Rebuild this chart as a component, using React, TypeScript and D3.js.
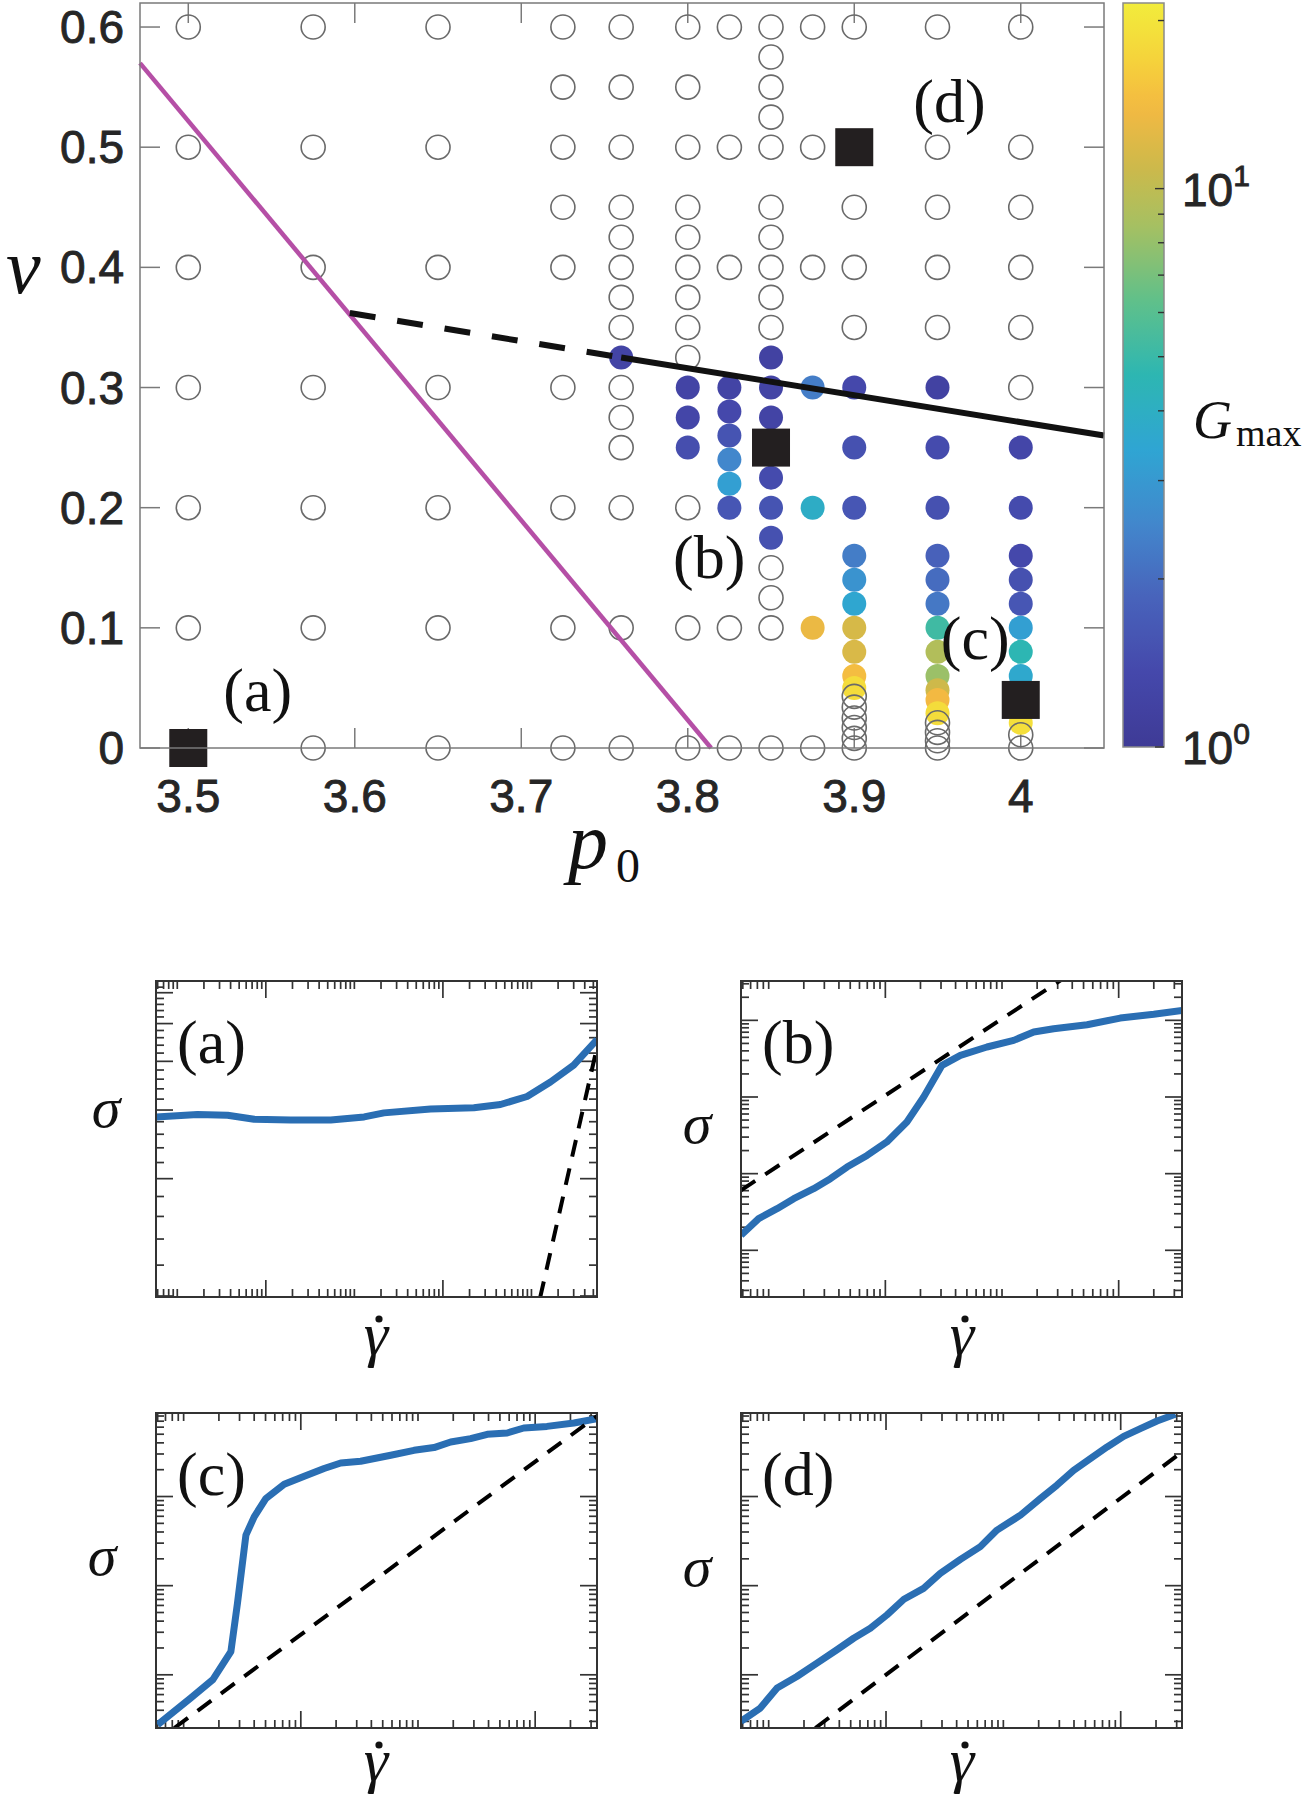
import React from 'react';
import * as d3 from 'd3';

const W = 1313;
const H = 1800;

// ---------------- main panel: (p0, v) diagram ----------------
const p0Ticks = [3.5, 3.6, 3.7, 3.8, 3.9, 4];
const p0TickLabels = ['3.5', '3.6', '3.7', '3.8', '3.9', '4'];
const vTicks = [0, 0.1, 0.2, 0.3, 0.4, 0.5, 0.6];
const vTickLabels = ['0', '0.1', '0.2', '0.3', '0.4', '0.5', '0.6'];

// open circles (no Gmax): [p0, v values]
const openColumns: [number, number[]][] = [
  [3.5, [0.1, 0.2, 0.3, 0.4, 0.5, 0.6]],
  [3.575, [0, 0.1, 0.2, 0.3, 0.4, 0.5, 0.6]],
  [3.65, [0, 0.1, 0.2, 0.3, 0.4, 0.5, 0.6]],
  [3.725, [0, 0.1, 0.2, 0.3, 0.4, 0.45, 0.5, 0.55, 0.6]],
  [3.76, [0, 0.1, 0.2, 0.25, 0.275, 0.3, 0.35, 0.375, 0.4, 0.425, 0.45, 0.5, 0.55, 0.6]],
  [3.8, [0, 0.1, 0.2, 0.325, 0.35, 0.375, 0.4, 0.425, 0.45, 0.5, 0.55, 0.6]],
  [3.825, [0, 0.1, 0.4, 0.5, 0.6]],
  [3.85, [0, 0.1, 0.125, 0.15, 0.35, 0.375, 0.4, 0.425, 0.45, 0.5, 0.525, 0.55, 0.575, 0.6]],
  [3.875, [0, 0.4, 0.5, 0.6]],
  [3.9, [0, 0.008, 0.017, 0.025, 0.034, 0.043, 0.35, 0.4, 0.45, 0.6]],
  [3.95, [0, 0.006, 0.013, 0.021, 0.35, 0.4, 0.45, 0.5, 0.6]],
  [4, [0, 0.011, 0.3, 0.35, 0.4, 0.45, 0.5, 0.6]],
];

// filled circles: [p0, v values, Gmax values]
const filledColumns: [number, number[], number[]][] = [
  [3.76, [0.325], [1.25]],
  [3.8, [0.3, 0.275, 0.25], [1.25, 1.3, 1.45]],
  [3.825, [0.3, 0.28, 0.26, 0.24, 0.22, 0.2], [1.25, 1.35, 1.55, 2.5, 3.2, 1.6]],
  [3.85, [0.325, 0.3, 0.275, 0.25, 0.225, 0.2, 0.175], [1.2, 1.25, 1.25, 1.3, 1.4, 1.55, 1.5]],
  [3.875, [0.3, 0.2, 0.1], [2.3, 3.9, 13.2]],
  [3.9, [0.3, 0.25, 0.2, 0.16, 0.14, 0.12, 0.1, 0.08, 0.06, 0.05], [1.35, 1.5, 1.6, 2.3, 2.85, 3.5, 11.6, 11.8, 14.4, 18.5]],
  [3.95, [0.3, 0.25, 0.2, 0.16, 0.14, 0.12, 0.1, 0.08, 0.06, 0.048, 0.04, 0.029], [1.2, 1.4, 1.5, 1.8, 2.0, 2.2, 5.2, 9.3, 8.2, 11, 13.9, 18.5]],
  [4, [0.25, 0.2, 0.16, 0.14, 0.12, 0.1, 0.08, 0.06, 0.04, 0.021], [1.3, 1.4, 1.35, 1.5, 1.6, 3.2, 4.6, 3.6, 8, 19]],
];

const caseLabels = ['(a)', '(b)', '(c)', '(d)'];
const caseP0 = [3.5, 3.85, 4, 3.9];
const caseV = [0, 0.25, 0.04, 0.5];

const rigidityP0 = [3.471, 3.814];
const rigidityV = [0.57, 0];
const dashedBoundaryP0 = [3.597, 3.76];
const dashedBoundaryV = [0.362, 0.325];
const solidBoundaryP0 = [3.76, 4.05];
const solidBoundaryV = [0.325, 0.26];

const gMaxDomain = [1, 21.5];
const gMaxLabelTicks = [1, 10];
const gMaxLabelExp = ['0', '1'];
const gMaxMinorTicks = [2, 3, 4, 5, 6, 7, 8, 9, 20];

// colour map as it appears in the printed colorbar (bottom -> top)
const cmapStops = [0, 0.1, 0.2, 0.3, 0.4, 0.5, 0.6, 0.7, 0.78, 0.86, 0.93, 1];
const cmapColors = ['#3e3a96', '#4548ab', '#4863bb', '#4287cc', '#2fa5d3', '#2db6b2', '#60c08a', '#a5c062',
  '#cdb94a', '#f4b942', '#f5d53a', '#f2ec3c'];

// ---------------- rheology panels (a)-(d) ----------------
const rateA = [5.74e-7, 1.69e-6, 3.70e-6, 7.38e-6, 1.91e-5, 5.41e-5, 1.29e-4, 2.16e-4, 7.26e-4, 2.24e-3, 4.47e-3, 8.93e-3, 1.64e-2, 3.00e-2, 5.51e-2];
const stressA = [0.0288, 0.0292, 0.0291, 0.0284, 0.0283, 0.0283, 0.0288, 0.0295, 0.0302, 0.0304, 0.0310, 0.0325, 0.0354, 0.0391, 0.0455];
const lineRateA = [0.0125, 0.06];
const lineStressA = [0.00988, 0.0474];

const rateB = [5.79e-6, 8.20e-6, 1.18e-5, 1.64e-5, 2.43e-5, 3.38e-5, 4.69e-5, 6.97e-5, 1.03e-4, 1.53e-4, 2.13e-4, 3.06e-4, 4.40e-4, 7.43e-4, 1.26e-3, 1.87e-3, 2.77e-3, 5.36e-3, 1.03e-2, 2.00e-2, 3.49e-2];
const stressB = [1.57e-3, 2.59e-3, 3.49e-3, 4.72e-3, 6.37e-3, 8.61e-3, 1.22e-2, 1.73e-2, 2.59e-2, 4.72e-2, 0.1, 0.259, 0.349, 0.449, 0.548, 0.705, 0.778, 0.877, 1.07, 1.2, 1.35];
const lineRateB = [5.79e-6, 5.01e-3];
const lineStressB = [6.07e-3, 5.25];

const rateC = [6.00e-6, 1.15e-5, 1.77e-5, 2.53e-5, 2.88e-5, 3.40e-5, 4.00e-5, 5.04e-5, 7.21e-5, 1.07e-4, 1.58e-4, 2.19e-4, 3.24e-4, 5.85e-4, 9.25e-4, 1.37e-3, 1.90e-3, 2.81e-3, 3.90e-3, 5.77e-3, 8.00e-3, 1.26e-2, 2.14e-2, 3.37e-2];
const stressC = [2.75e-4, 5.48e-4, 8.79e-4, 1.82e-3, 6.34e-3, 3.69e-2, 5.92e-2, 9.51e-2, 0.137, 0.169, 0.206, 0.238, 0.249, 0.29, 0.33, 0.354, 0.409, 0.446, 0.499, 0.516, 0.587, 0.612, 0.668, 0.746];
const lineRateC = [8.32e-6, 3.37e-2];
const lineStressC = [2.53e-4, 0.8];

const rateD = [5.81e-6, 8.49e-6, 1.18e-5, 1.74e-5, 2.58e-5, 3.82e-5, 5.30e-5, 7.35e-5, 1.02e-4, 1.42e-4, 2.09e-4, 2.90e-4, 4.31e-4, 6.37e-4, 8.83e-4, 1.40e-3, 2.07e-3, 2.86e-3, 3.97e-3, 5.51e-3, 7.66e-3, 1.06e-2, 1.47e-2, 2.04e-2, 2.92e-2];
const stressD = [3.01e-4, 4.24e-4, 7.10e-4, 9.57e-4, 1.35e-3, 1.91e-3, 2.57e-3, 3.33e-3, 4.70e-3, 7.03e-3, 9.33e-3, 1.37e-2, 1.97e-2, 2.74e-2, 4.20e-2, 6.18e-2, 9.51e-2, 0.134, 0.197, 0.266, 0.36, 0.473, 0.577, 0.703, 0.836];
const lineRateD = [2.50e-5, 3.33e-2];
const lineStressD = [2.53e-4, 0.316];

const stressTicksAMajor = [0.01, 0.02, 0.03, 0.04, 0.05, 0.06];
const stressTicksAMinor = [0.012, 0.014, 0.016, 0.018, 0.022, 0.024, 0.026, 0.028, 0.032, 0.034, 0.036, 0.038,
  0.042, 0.044, 0.046, 0.048, 0.052, 0.054, 0.056, 0.058, 0.062];

const BLUE = '#2a6eb3';
const SERIF = '"Liberation Serif", "Times New Roman", serif';
const SANS = '"Liberation Sans", Arial, Helvetica, sans-serif';

type PanelCfg = {
  key: string;
  label: string;
  box: [number, number, number, number];
  xDomain: [number, number];
  yDomain: [number, number];
  xLong: number[];
  yLong: number[];
  yTicks?: number[];
  rate: number[];
  stress: number[];
  lineRate: number[];
  lineStress: number[];
  sigma: [number, number];
  gamma: [number, number];
};

const panels: PanelCfg[] = [
  { key: 'a', label: '(a)', box: [156, 981, 597, 1297], xDomain: [5.75e-7, 5.5e-2], yDomain: [0.00994, 0.0643],
    xLong: [1e-5, 1e-3], yLong: stressTicksAMajor, yTicks: [...stressTicksAMajor, ...stressTicksAMinor],
    rate: rateA, stress: stressA, lineRate: lineRateA, lineStress: lineStressA, sigma: [106, 1127], gamma: [376, 1355] },
  { key: 'b', label: '(b)', box: [741, 981, 1182, 1297], xDomain: [5.79e-6, 3.49e-2], yDomain: [2.46e-4, 3.26],
    xLong: [1e-4, 1e-2], yLong: [1e-3, 1e-2, 1e-1, 1],
    rate: rateB, stress: stressB, lineRate: lineRateB, lineStress: lineStressB, sigma: [697, 1143], gamma: [962, 1355] },
  { key: 'c', label: '(c)', box: [156, 1413, 597, 1728], xDomain: [5.81e-6, 3.37e-2], yDomain: [2.53e-4, 0.865],
    xLong: [1e-4, 1e-2], yLong: [1e-3, 1e-2, 1e-1],
    rate: rateC, stress: stressC, lineRate: lineRateC, lineStress: lineStressC, sigma: [102, 1575], gamma: [376, 1781] },
  { key: 'd', label: '(d)', box: [741, 1413, 1182, 1728], xDomain: [5.81e-6, 3.33e-2], yDomain: [2.53e-4, 0.865],
    xLong: [1e-4, 1e-2], yLong: [1e-3, 1e-2, 1e-1],
    rate: rateD, stress: stressD, lineRate: lineRateD, lineStress: lineStressD, sigma: [697, 1586], gamma: [962, 1781] },
];

const sameVal = (a: number, b: number) => Math.abs(Math.log10(a / b)) < 1e-6;

function StressPanel({ cfg }: { cfg: PanelCfg }) {
  const [l, t, r, b] = cfg.box;
  const x = d3.scaleLog().domain(cfg.xDomain).range([l, r]);
  const y = d3.scaleLog().domain(cfg.yDomain).range([b, t]);
  const xt = x.ticks();
  const yt = cfg.yTicks ?? y.ticks();
  const major = 17;
  const minor = 8;
  const line = d3.line<number>().x((d) => x(d)).y((_, i) => y(cfg.stress[i]));
  const ref = d3.line<number>().x((d) => x(d)).y((_, i) => y(cfg.lineStress[i]));
  const clip = `clip-${cfg.key}`;
  return (
    <g>
      <defs>
        <clipPath id={clip}><rect x={l} y={t} width={r - l} height={b - t} /></clipPath>
      </defs>
      <g stroke="#333" strokeWidth={1.7}>
        {xt.map((v, i) => {
          const len = cfg.xLong.some((m) => sameVal(m, v)) ? major : minor;
          const px = x(v);
          return (
            <g key={`x${i}`}>
              <line x1={px} x2={px} y1={b} y2={b - len} />
              <line x1={px} x2={px} y1={t} y2={t + len} />
            </g>
          );
        })}
        {yt.map((v, i) => {
          const len = cfg.yLong.some((m) => sameVal(m, v)) ? major : minor;
          const py = y(v);
          if (py < t - 0.5 || py > b + 0.5) return null;
          return (
            <g key={`y${i}`}>
              <line x1={l} x2={l + len} y1={py} y2={py} />
              <line x1={r} x2={r - len} y1={py} y2={py} />
            </g>
          );
        })}
      </g>
      <g clipPath={`url(#${clip})`}>
        <path d={line(cfg.rate) ?? ''} fill="none" stroke={BLUE} strokeWidth={7} strokeLinejoin="round" />
        <path d={ref(cfg.lineRate) ?? ''} fill="none" stroke="#000" strokeWidth={4} strokeDasharray="17 12" />
      </g>
      <rect x={l} y={t} width={r - l} height={b - t} fill="none" stroke="#333" strokeWidth={2} />
      <text x={l + 21} y={t + 82} fontFamily={SERIF} fontSize={62} fill="#111">{cfg.label}</text>
      <text x={cfg.sigma[0]} y={cfg.sigma[1]} textAnchor="middle" fontFamily={SERIF} fontStyle="italic" fontSize={58} fill="#111">σ</text>
      <text x={cfg.gamma[0]} y={cfg.gamma[1]} textAnchor="middle" fontFamily={SERIF} fontStyle="italic" fontSize={62} fill="#111">γ</text>
      <circle cx={cfg.gamma[0] + 3} cy={cfg.gamma[1] - 36} r={3.6} fill="#111" />
    </g>
  );
}

export default function App() {
  const L = 140, R = 1104, T = 3, B = 748;
  const x = d3.scaleLinear().domain([3.471, 4.05]).range([L, R]);
  const y = d3.scaleLinear().domain([0, 0.62]).range([B, T]);
  const cbL = 1123, cbR = 1164, cbT = 3, cbB = 747;
  const cb = d3.scaleLog().domain(gMaxDomain).range([cbB, cbT]);
  const cmap = d3.scaleLinear<string>().domain(cmapStops).range(cmapColors).interpolate(d3.interpolateRgb).clamp(true);
  const tOf = d3.scaleLog().domain(gMaxDomain).range([0, 1]).clamp(true);
  const gradStops = d3.range(0, 41).map((i) => i / 40);
  const tick = 20;

  const filled = filledColumns.flatMap(([p, vs, gs]) => vs.map((v, i) => ({ p, v, g: gs[i] })));
  const open = openColumns.flatMap(([p, vs]) => vs.map((v) => ({ p, v })));
  const labelOffsets: [number, number][] = [[35, -37], [-98, 130], [-80, -41], [59, -25]];

  return (
    <svg width={W} height={H} style={{ position: 'absolute', left: 0, top: 0, background: '#fff' }}>
      <rect width={W} height={H} fill="#fff" />
      <defs>
        <linearGradient id="gmaxmap" x1="0" y1="1" x2="0" y2="0">
          {gradStops.map((s) => <stop key={s} offset={s} stopColor={cmap(s)} />)}
        </linearGradient>
      </defs>

      {/* main axes ticks */}
      <g stroke="#7a7a7a" strokeWidth={1.5}>
        {p0Ticks.map((p) => (
          <g key={`pt${p}`}>
            <line x1={x(p)} x2={x(p)} y1={B} y2={B - tick} />
            <line x1={x(p)} x2={x(p)} y1={T} y2={T + tick} />
          </g>
        ))}
        {vTicks.map((v) => (
          <g key={`vt${v}`}>
            <line x1={L} x2={L + tick} y1={y(v)} y2={y(v)} />
            <line x1={R} x2={R - tick} y1={y(v)} y2={y(v)} />
          </g>
        ))}
      </g>

      {/* data */}
      <g>
        {filled.map((d, i) => (
          <circle key={`f${i}`} cx={x(d.p)} cy={y(d.v)} r={12} fill={cmap(tOf(d.g))} />
        ))}
        {open.map((d, i) => (
          <circle key={`o${i}`} cx={x(d.p)} cy={y(d.v)} r={12} fill="none" stroke="#6a6a6a" strokeWidth={1.6} />
        ))}
      </g>
      <line x1={x(rigidityP0[0])} y1={y(rigidityV[0])} x2={x(rigidityP0[1])} y2={y(rigidityV[1])}
        stroke="#b54fa6" strokeWidth={4.5} />
      <line x1={x(dashedBoundaryP0[0])} y1={y(dashedBoundaryV[0])} x2={x(dashedBoundaryP0[1])} y2={y(dashedBoundaryV[1])}
        stroke="#111" strokeWidth={6} strokeDasharray="26 22" />
      <line x1={x(solidBoundaryP0[0])} y1={y(solidBoundaryV[0])} x2={x(solidBoundaryP0[1])} y2={y(solidBoundaryV[1])}
        stroke="#111" strokeWidth={6} />
      {caseP0.map((p, i) => (
        <rect key={`sq${i}`} x={x(p) - 19} y={y(caseV[i]) - 19} width={38} height={38} fill="#231f20" />
      ))}
      {caseLabels.map((s, i) => (
        <text key={`cl${i}`} x={x(caseP0[i]) + labelOffsets[i][0]} y={y(caseV[i]) + labelOffsets[i][1]}
          fontFamily={SERIF} fontSize={62} fill="#111">{s}</text>
      ))}

      <rect x={L} y={T} width={R - L} height={B - T} fill="none" stroke="#7a7a7a" strokeWidth={1.5} />

      {/* tick labels */}
      <g fontFamily={SANS} fontSize={46} fill="#262626" stroke="#262626" strokeWidth={0.9}>
        {p0Ticks.map((p, i) => (
          <text key={`pl${p}`} x={x(p)} y={B + 64} textAnchor="middle">{p0TickLabels[i]}</text>
        ))}
        {vTicks.map((v, i) => (
          <text key={`vl${v}`} x={L - 16} y={y(v) + 16} textAnchor="end">{vTickLabels[i]}</text>
        ))}
      </g>
      <text x={6} y={293} fontFamily={SERIF} fontStyle="italic" fontSize={78} fill="#111">v</text>
      <text x={568} y={868} fontFamily={SERIF} fontStyle="italic" fontSize={80} fill="#111">p</text>
      <text x={616} y={882} fontFamily={SERIF} fontSize={48} fill="#111">0</text>

      {/* colorbar */}
      <rect x={cbL} y={cbT} width={cbR - cbL} height={cbB - cbT} fill="url(#gmaxmap)" stroke="#8a8a8a" strokeWidth={1.5} />
      <g stroke="#333" strokeWidth={1.4}>
        {[...gMaxLabelTicks, ...gMaxMinorTicks].map((g) => (
          <line key={`cb${g}`} x1={cbR} x2={cbR - (gMaxLabelTicks.includes(g) ? 9 : 6)} y1={cb(g)} y2={cb(g)} />
        ))}
      </g>
      <g fontFamily={SANS} fill="#262626" stroke="#262626" strokeWidth={0.9}>
        {gMaxLabelTicks.map((g, i) => (
          <text key={`cbl${g}`} x={1182} y={cb(g) + 17} fontSize={46}>
            10<tspan dy={-20} fontSize={30}>{gMaxLabelExp[i]}</tspan>
          </text>
        ))}
      </g>
      <text x={1193} y={438} fontFamily={SERIF} fontStyle="italic" fontSize={54} fill="#111">G</text>
      <text x={1236} y={446} fontFamily={SERIF} fontSize={38} fill="#111">max</text>

      {panels.map((cfg) => <StressPanel key={cfg.key} cfg={cfg} />)}
    </svg>
  );
}
